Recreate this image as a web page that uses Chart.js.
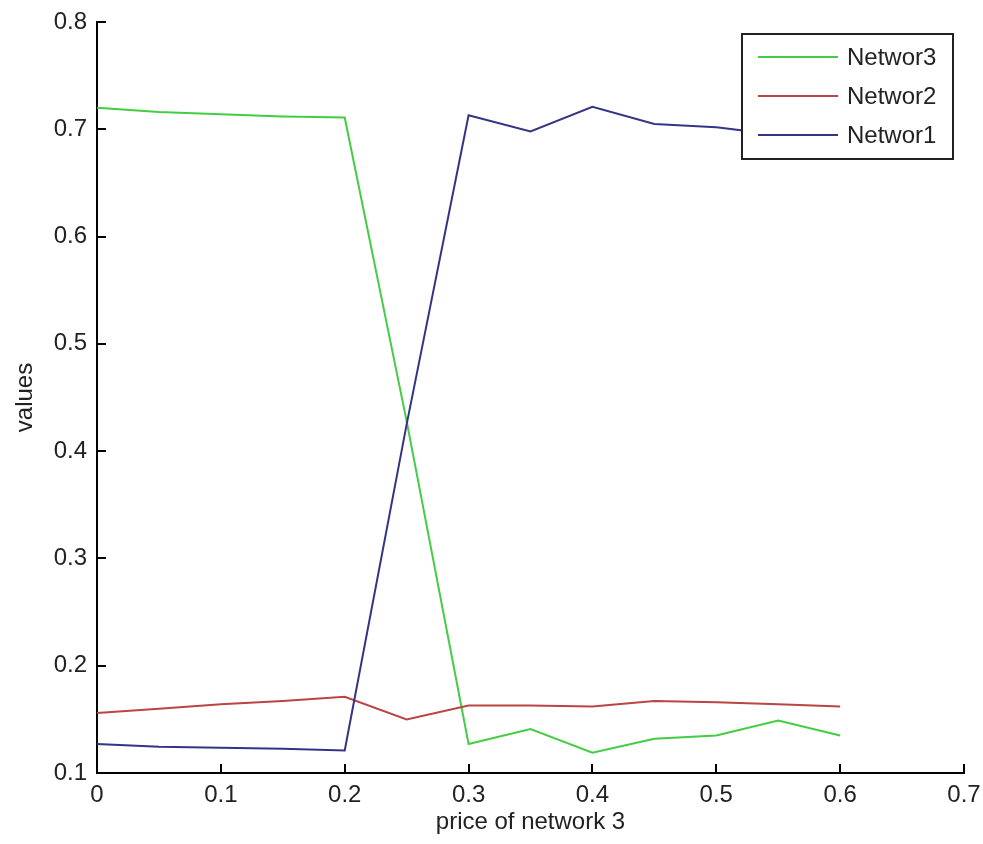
<!DOCTYPE html>
<html>
<head>
<meta charset="utf-8">
<script src="https://cdn.jsdelivr.net/npm/chart.js@4/dist/chart.umd.min.js"></script>
<style>
  html, body { margin: 0; padding: 0; background: #fff; }
  canvas { display: block; }
</style>
</head>
<body>
<canvas id="chart" width="983" height="844"></canvas>
<script>
const priceValues = [0, 0.05, 0.1, 0.15, 0.2, 0.25, 0.3, 0.35, 0.4, 0.45, 0.5, 0.55, 0.6];
const networ3 = [0.720, 0.716, 0.714, 0.712, 0.711, 0.428, 0.127, 0.141, 0.119, 0.132, 0.135, 0.149, 0.135];
const networ2 = [0.156, 0.160, 0.164, 0.167, 0.171, 0.150, 0.163, 0.163, 0.162, 0.167, 0.166, 0.164, 0.162];
const networ1 = [0.127, 0.1245, 0.1236, 0.1227, 0.121, 0.425, 0.713, 0.698, 0.721, 0.705, 0.702, 0.695, 0.690];

const xTicks = [0, 0.1, 0.2, 0.3, 0.4, 0.5, 0.6, 0.7];
const xTickLabels = ['0', '0.1', '0.2', '0.3', '0.4', '0.5', '0.6', '0.7'];
const yTicks = [0.1, 0.2, 0.3, 0.4, 0.5, 0.6, 0.7, 0.8];
const yTickLabels = ['0.1', '0.2', '0.3', '0.4', '0.5', '0.6', '0.7', '0.8'];

const FONT = 'Liberation Sans, Arial, sans-serif';
const TEXT = '#222';

function toPoints(values) {
  return priceValues.map((x, i) => ({ x: x, y: values[i] }));
}

// matlab style ticks pointing into the plot
const innerTicks = {
  id: 'innerTicks',
  afterDatasetsDraw(chart) {
    const ctx = chart.ctx;
    const area = chart.chartArea;
    const len = 9;
    ctx.save();
    ctx.strokeStyle = '#000';
    ctx.lineWidth = 2;
    ctx.beginPath();
    xTicks.forEach(v => {
      const px = Math.round(chart.scales.x.getPixelForValue(v));
      ctx.moveTo(px, area.bottom);
      ctx.lineTo(px, area.bottom - len);
    });
    yTicks.forEach(v => {
      const py = Math.round(chart.scales.y.getPixelForValue(v));
      ctx.moveTo(area.left, py);
      ctx.lineTo(area.left + len, py);
    });
    ctx.stroke();
    ctx.restore();
  }
};

// boxed legend with white fill, drawn over the lines
const boxLegend = {
  id: 'boxLegend',
  afterDatasetsDraw(chart) {
    const ctx = chart.ctx;
    const left = 742, top = 34, w = 211, h = 125;
    ctx.save();
    ctx.fillStyle = '#fff';
    ctx.fillRect(left, top, w, h);
    ctx.strokeStyle = '#222';
    ctx.lineWidth = 2;
    ctx.strokeRect(left, top, w, h);
    ctx.font = '24px ' + FONT;
    ctx.textBaseline = 'middle';
    ctx.fillStyle = TEXT;
    chart.data.datasets.forEach((ds, i) => {
      const y = top + 23 + i * 39;
      ctx.strokeStyle = ds.borderColor;
      ctx.beginPath();
      ctx.moveTo(left + 16, y);
      ctx.lineTo(left + 96, y);
      ctx.stroke();
      ctx.fillText(ds.label, left + 105, y + 1);
    });
    ctx.restore();
  }
};

new Chart(document.getElementById('chart'), {
  type: 'line',
  data: {
    datasets: [
      { label: 'Networ3', data: toPoints(networ3), borderColor: '#44cc44', order: 3 },
      { label: 'Networ2', data: toPoints(networ2), borderColor: '#bb4444', order: 2 },
      { label: 'Networ1', data: toPoints(networ1), borderColor: '#343487', order: 1 },
    ],
  },
  options: {
    responsive: false,
    animation: false,
    devicePixelRatio: 1,
    elements: {
      line: { borderWidth: 2, tension: 0 },
      point: { radius: 0, hoverRadius: 0 },
    },
    layout: { padding: { top: 22, right: 19, left: 0, bottom: 0 } },
    plugins: {
      legend: { display: false },
      tooltip: { enabled: false },
    },
    scales: {
      x: {
        type: 'linear',
        min: 0,
        max: 0.7,
        afterBuildTicks: s => { s.ticks = xTicks.map(v => ({ value: v })); },
        afterFit: s => { s.height = 71; s.paddingLeft = 0; s.paddingRight = 0; },
        ticks: {
          callback: (v, i) => xTickLabels[i],
          font: { family: FONT, size: 24 },
          color: TEXT,
          padding: 8,
          maxRotation: 0,
        },
        grid: { drawOnChartArea: false, drawTicks: false },
        border: { display: true, color: '#000', width: 2 },
        title: {
          display: true,
          text: 'price of network 3',
          font: { family: FONT, size: 24 },
          color: TEXT,
          padding: { top: 0, bottom: 7 },
        },
      },
      y: {
        min: 0.1,
        max: 0.8,
        afterBuildTicks: s => { s.ticks = yTicks.map(v => ({ value: v })); },
        afterFit: s => { s.width = 97; s.paddingTop = 0; s.paddingBottom = 0; },
        ticks: {
          callback: (v, i) => yTickLabels[i],
          font: { family: FONT, size: 24 },
          color: TEXT,
          padding: 10,
        },
        grid: { drawOnChartArea: false, drawTicks: false },
        border: { display: true, color: '#000', width: 2 },
        title: {
          display: true,
          text: 'values',
          font: { family: FONT, size: 24 },
          color: TEXT,
          padding: { top: 11, bottom: 0 },
        },
      },
    },
  },
  plugins: [innerTicks, boxLegend],
});
</script>
</body>
</html>
